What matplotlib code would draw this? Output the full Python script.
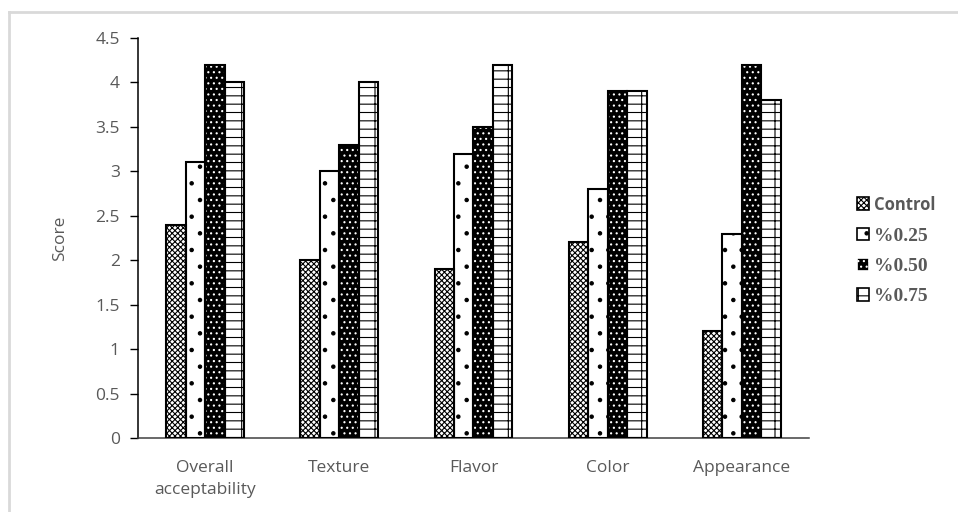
import numpy as np
import matplotlib.pyplot as plt
from matplotlib.lines import Line2D
from matplotlib.patches import Patch

categories = ['Overall\nacceptability', 'Texture', 'Flavor', 'Color', 'Appearance']
series_names = ['Control', '%0.25', '%0.50', '%0.75']
control = [2.4, 2.0, 1.9, 2.2, 1.2]
pct_025 = [3.1, 3.0, 3.2, 2.8, 2.3]
pct_050 = [4.2, 3.3, 3.5, 3.9, 4.2]
pct_075 = [4.0, 4.0, 4.2, 3.9, 3.8]

grey = '#595959'
plt.rcParams['font.family'] = ['Open Sans', 'DejaVu Sans']
plt.rcParams['hatch.linewidth'] = 0.8

fig = plt.figure(figsize=(9.58, 5.12), dpi=100)
ax = fig.add_axes([0.144, 0.1445, 0.7005, 0.7813])

x = np.arange(len(categories))
w = 0.145

# (values, face, hatch colour, hatch)
styles = [
    (control, 'white', 'black', 'xxxxxx'),
    (pct_025, 'white', 'black', '.'),
    (pct_050, 'black', 'white', '...'),
    (pct_075, 'white', 'black', '--|'),
]

for i, (vals, face, hcol, hatch) in enumerate(styles):
    pos = x + (i - 1.5) * w
    ax.bar(pos, vals, w, color=face, edgecolor=hcol, hatch=hatch, linewidth=0, zorder=2)
    ax.bar(pos, vals, w, fill=False, edgecolor='black', linewidth=1.5, zorder=3)

ax.set_xlim(-0.5, len(categories) - 0.5)
ax.set_ylim(0, 4.5)
ax.set_yticks(np.arange(0, 4.51, 0.5))
ax.set_yticklabels(['0', '0.5', '1', '1.5', '2', '2.5', '3', '3.5', '4', '4.5'])
ax.set_xticks(x)
ax.set_xticklabels(categories, linespacing=1.45)
ax.tick_params(axis='x', length=0, pad=16, labelsize=12.5, labelcolor=grey)
ax.tick_params(axis='y', length=6, width=1, direction='out', pad=7, labelsize=12.5, labelcolor=grey)
ax.set_ylabel('Score', fontsize=12.5, color=grey, labelpad=20)

for s in ['top', 'right']:
    ax.spines[s].set_visible(False)
ax.spines['left'].set_linewidth(1.1)
ax.spines['bottom'].set_color('#404040')
ax.spines['bottom'].set_linewidth(1.1)

# legend handles, drawn like the bars
handles = []
for name, (vals, face, hcol, hatch) in zip(series_names, styles):
    handles.append(Patch(facecolor=face, edgecolor=hcol if face == 'black' else 'black',
                         hatch=hatch, linewidth=1.2, label=name))
leg = fig.legend(handles=handles, loc='center left', bbox_to_anchor=(0.876, 0.51),
                 frameon=False, handlelength=0.62, handleheight=0.62, handletextpad=0.25,
                 labelspacing=0.68, prop={'weight': 'bold', 'size': 14,
                                          'family': ['Liberation Serif', 'DejaVu Serif']})
for t in leg.get_texts():
    t.set_color(grey)
leg.get_texts()[0].set_family(['Open Sans', 'DejaVu Sans'])
leg.get_texts()[0].set_fontsize(12)

# thin frame along the top and left edge
fig.add_artist(Line2D([0.0095, 0.0095], [0.0, 0.977], transform=fig.transFigure,
                      color='#d9d9d9', linewidth=2))
fig.add_artist(Line2D([0.0095, 1.0], [0.977, 0.977], transform=fig.transFigure,
                      color='#d9d9d9', linewidth=2))

fig.savefig('out.png', dpi=100)
